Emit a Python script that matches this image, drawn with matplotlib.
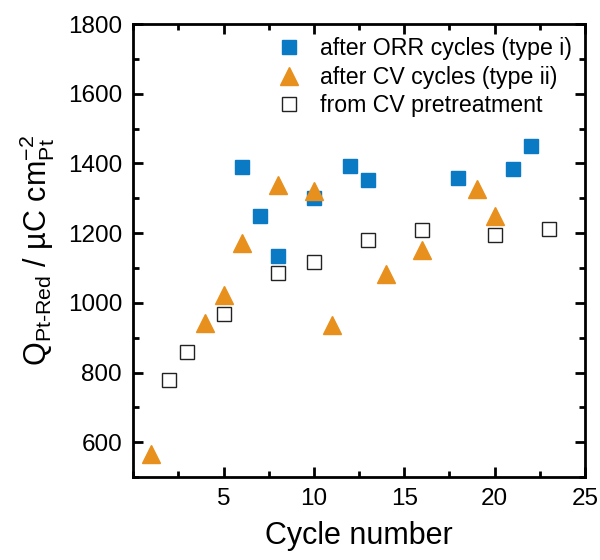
import matplotlib
matplotlib.use("Agg")
import matplotlib.pyplot as plt
from matplotlib.ticker import MultipleLocator

plt.rcParams['font.family'] = ['Liberation Sans', 'DejaVu Sans']
plt.rcParams['mathtext.fontset'] = 'custom'
plt.rcParams['mathtext.rm'] = 'Liberation Sans'
plt.rcParams['mathtext.it'] = 'Liberation Sans:italic'
plt.rcParams['mathtext.bf'] = 'Liberation Sans:bold'

# Data
orr_cycle = [6, 7, 8, 10, 12, 13, 18, 21, 22]
orr_q = [1390, 1250, 1135, 1300, 1393, 1352, 1358, 1385, 1450]

cv_cycle = [1, 4, 5, 6, 8, 10, 11, 14, 16, 19, 20]
cv_q = [567, 943, 1022, 1172, 1337, 1322, 937, 1083, 1152, 1328, 1250]

pre_cycle = [2, 3, 5, 8, 10, 13, 16, 20, 23]
pre_q = [780, 859, 968, 1087, 1117, 1180, 1210, 1196, 1212]

labels = ['after ORR cycles (type i)', 'after CV cycles (type ii)', 'from CV pretreatment']

fig = plt.figure(figsize=(6, 5.6), dpi=100)
ax = fig.add_axes([0.222, 0.148, 0.753, 0.809])

ax.plot(orr_cycle, orr_q, linestyle='none', marker='s', ms=10,
        color='#0a7ac4', mec='#0a7ac4', label=labels[0])
ax.plot(cv_cycle, cv_q, linestyle='none', marker='^', ms=13,
        color='#e8901e', mec='#e8901e', label=labels[1])
ax.plot(pre_cycle, pre_q, linestyle='none', marker='s', ms=10,
        mfc='white', mec='#222222', mew=1.0, label=labels[2])

ax.set_xlim(0, 25)
ax.set_ylim(500, 1800)
ax.xaxis.set_major_locator(MultipleLocator(5))
ax.xaxis.set_minor_locator(MultipleLocator(2.5))
ax.yaxis.set_major_locator(MultipleLocator(200))
ax.yaxis.set_minor_locator(MultipleLocator(100))
ax.set_xticks([5, 10, 15, 20, 25])
ax.set_yticks([600, 800, 1000, 1200, 1400, 1600, 1800])

for s in ax.spines.values():
    s.set_linewidth(2)
ax.tick_params(which='both', direction='in', top=True, right=True, width=2,
               labelsize=17.5, pad=8)
ax.tick_params(which='major', length=7)
ax.tick_params(which='minor', length=4)

ax.set_xlabel('Cycle number', fontsize=22, labelpad=8)
ax.set_ylabel(r'Q$_{\mathrm{Pt\text{-}Red}}$ / µC cm$^{\mathrm{-2}}_{\mathrm{Pt}}$',
              fontsize=22, labelpad=8)

ax.legend(loc='upper right', frameon=False, fontsize=16.7, handletextpad=0.6,
          labelspacing=0.25, borderaxespad=0.15, handlelength=1.5)

fig.savefig('out.png', dpi=100)
